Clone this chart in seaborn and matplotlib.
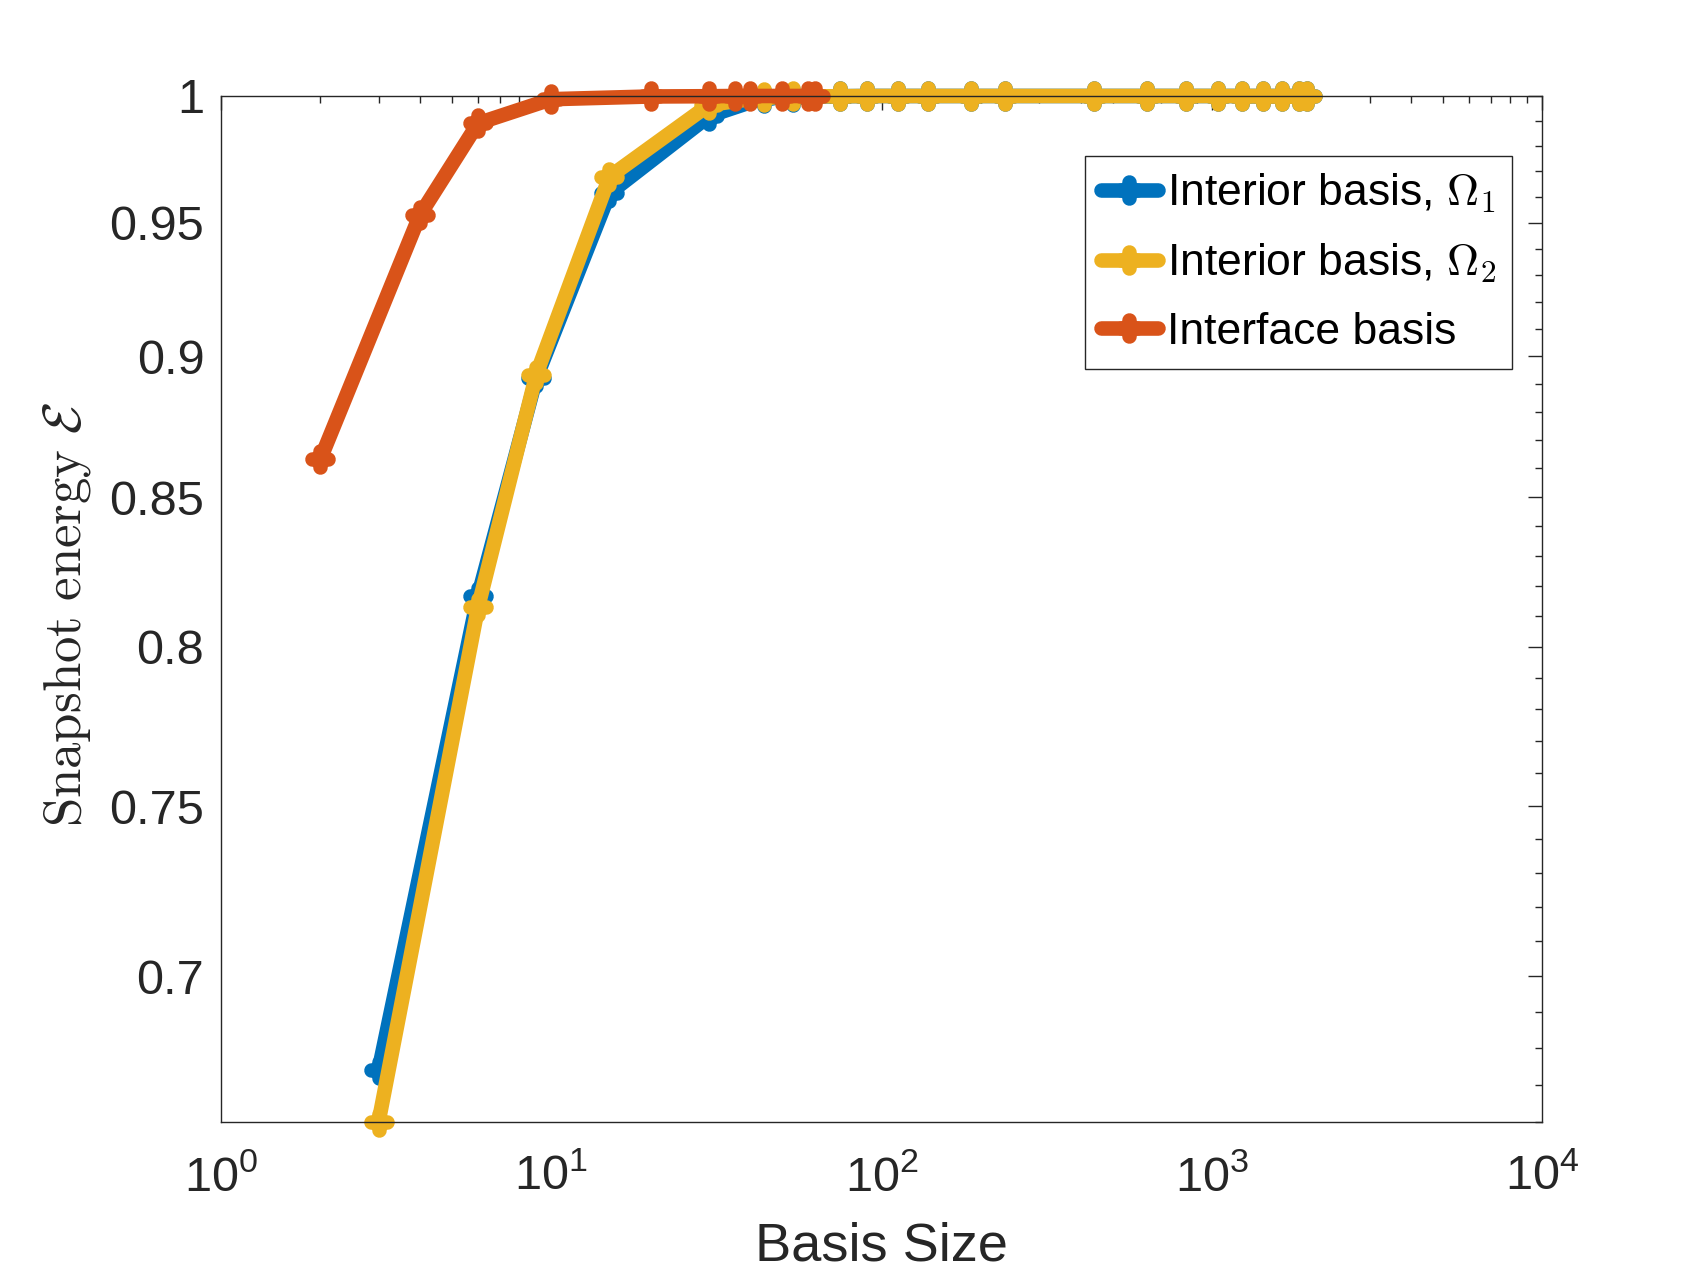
import numpy as np
import pandas as pd
import matplotlib
matplotlib.use("Agg")
import matplotlib.pyplot as plt
import seaborn as sns
from matplotlib.markers import MarkerStyle
from matplotlib.ticker import FixedLocator, FixedFormatter, NullFormatter, LogLocator

# ---------------- data ----------------
blue_x = [3, 6, 9, 15, 30, 44, 54, 75, 90, 112, 138, 187, 236, 438, 638, 836,
          1040, 1232, 1428, 1630, 1840, 1936]
blue_y = [0.6739, 0.8166, 0.8920, 0.9614, 0.9919, 0.9993, 0.9997, 0.9999, 1.0,
          1.0, 1.0, 1.0, 1.0, 1.0, 1.0, 1.0, 1.0, 1.0, 1.0, 1.0, 1.0, 1.0]

yellow_x = [3, 6, 9, 15, 30, 44, 54, 75, 90, 112, 138, 187, 236, 438, 638, 836,
            1040, 1232, 1428, 1630, 1840, 1936]
yellow_y = [0.660, 0.8129, 0.8932, 0.9678, 0.9964, 0.9995, 0.9998, 0.9999,
            1.0, 1.0, 1.0, 1.0, 1.0, 1.0, 1.0, 1.0, 1.0, 1.0, 1.0, 1.0, 1.0, 1.0]

orange_x = [2, 4, 6, 10, 20, 30, 36, 40, 50, 60, 63]
orange_y = [0.8632, 0.9529, 0.9890, 0.9987, 0.9998, 0.9999, 1.0, 1.0, 1.0, 1.0, 1.0]

labels = [r'Interior basis, $\Omega_{\mathsf{1}}$',
          r'Interior basis, $\Omega_{\mathsf{2}}$',
          'Interface basis']
colors = ['#0072BD', '#EDB120', '#D95319']

x_ticks = [1, 10, 100, 1000, 10000]
x_tick_labels = [r'$10^{0}$', r'$10^{1}$', r'$10^{2}$', r'$10^{3}$', r'$10^{4}$']
y_ticks = [0.7, 0.75, 0.8, 0.85, 0.9, 0.95, 1.0]
y_tick_labels = ['0.7', '0.75', '0.8', '0.85', '0.9', '0.95', '1']
y_minor = [0.66, 0.67, 0.68, 0.69, 0.71, 0.72, 0.73, 0.74, 0.76, 0.77, 0.78, 0.79,
           0.81, 0.82, 0.83, 0.84, 0.86, 0.87, 0.88, 0.89, 0.91, 0.92, 0.93, 0.94,
           0.96, 0.97, 0.98, 0.99]

# ---------------- style ----------------
sns.set_style("white")
plt.rcParams['font.family'] = ['Liberation Sans', 'DejaVu Sans']
plt.rcParams['mathtext.fontset'] = 'custom'
plt.rcParams['mathtext.rm'] = 'Liberation Sans'
plt.rcParams['mathtext.it'] = 'Liberation Sans:italic'
plt.rcParams['mathtext.bf'] = 'Liberation Sans:bold'
plt.rcParams['mathtext.sf'] = 'Liberation Sans'

AX_COL = '#262626'
LW = 10.5
MS = 12

fig = plt.figure(figsize=(17.04, 12.78), dpi=100)
ax = fig.add_axes([0.1297, 0.1223, 0.7754, 0.8026])

series = [(blue_x, blue_y), (yellow_x, yellow_y), (orange_x, orange_y)]
for (xs, ys), c, lab in zip(series, colors, labels):
    df = pd.DataFrame({'x': xs, 'y': ys})
    sns.lineplot(data=df, x='x', y='y', ax=ax, sort=False, estimator=None,
                 color=c, linewidth=LW,
                 marker=MarkerStyle('+', capstyle='round'),
                 markersize=MS, markeredgewidth=LW, markeredgecolor=c,
                 solid_capstyle='round', solid_joinstyle='round',
                 clip_on=False, label=lab)

ax.set_xscale('log')
ax.set_yscale('log')
ax.set_xlim(1, 1e4)
ax.set_ylim(0.66, 1.0)

ax.xaxis.set_major_locator(FixedLocator(x_ticks))
ax.xaxis.set_major_formatter(FixedFormatter(x_tick_labels))
ax.xaxis.set_minor_locator(LogLocator(base=10, subs=np.arange(2, 10), numticks=100))
ax.xaxis.set_minor_formatter(NullFormatter())
ax.yaxis.set_major_locator(FixedLocator(y_ticks))
ax.yaxis.set_major_formatter(FixedFormatter(y_tick_labels))
ax.yaxis.set_minor_locator(FixedLocator(y_minor))
ax.yaxis.set_minor_formatter(NullFormatter())

ax.tick_params(which='both', direction='in', top=True, right=True,
               colors=AX_COL, width=1.0)
ax.tick_params(which='major', length=10, labelsize=35)
ax.tick_params(which='minor', length=5)
ax.tick_params(axis='x', which='major', pad=24)
ax.tick_params(axis='y', which='major', pad=12)

for s in ax.spines.values():
    s.set_visible(True)
    s.set_color(AX_COL)
    s.set_linewidth(1.0)

ax.set_xlabel('Basis Size', fontsize=39, color=AX_COL)
ax.xaxis.set_label_coords(0.5, -0.097)
ax.xaxis.label.set_verticalalignment('top')
ax.set_ylabel(r'$\mathrm{Snapshot\ energy}\ \mathcal{E}$', fontsize=38,
              color=AX_COL, math_fontfamily='cm')
ax.yaxis.set_label_coords(-0.097, 0.4945)

leg = ax.legend(loc='upper right', bbox_to_anchor=(0.9773, 0.9415),
                borderaxespad=0, fontsize=32, frameon=True, fancybox=False,
                edgecolor=AX_COL, framealpha=1, handlelength=1.3,
                handletextpad=0.2, labelspacing=0.6, borderpad=0.35)
leg.get_frame().set_linewidth(1.0)
for t in leg.get_texts():
    t.set_math_fontfamily('cm')
    t.set_color('black')

fig.savefig('out.png', dpi=100)
